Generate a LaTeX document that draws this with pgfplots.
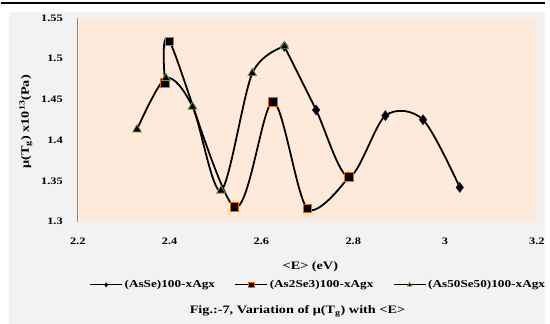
\documentclass[border=0pt]{standalone}
\usepackage{pgfplots}
\pgfplotsset{compat=1.18}
\usepackage{fontspec}
\setmainfont{Liberation Serif}[FakeStretch=1.25]
\definecolor{bgpanel}{RGB}{242,242,242}
\definecolor{plotbg}{RGB}{253,234,218}
\definecolor{sqorange}{RGB}{228,108,10}
\definecolor{trigreen}{RGB}{118,146,60}
\definecolor{diamedge}{RGB}{40,20,60}
\begin{document}
\begin{tikzpicture}
\fill[white] (0pt,0pt) rectangle (550pt,327pt);
\fill[bgpanel] (8pt,0pt) rectangle (550pt,315pt);
\draw[line width=1.2pt] (0pt,324pt) -- (550pt,324pt);
\begin{axis}[
  at={(78pt,103pt)}, anchor=south west,
  scale only axis, width=464pt, height=206pt,
  xmin=2.2, xmax=3.2, ymin=1.3, ymax=1.55,
  xtick={2.2,2.4,2.6,2.8,3,3.2},
  ytick={1.3,1.35,1.4,1.45,1.5,1.55},
  axis background/.style={fill=plotbg},
  axis lines*=left,
  x axis line style={draw=none},
  y axis line style={draw=black!45, line width=0.6pt},
  major tick length=0pt,
  /pgf/number format/assume math mode=true,
  ticklabel style={font=\bfseries\fontsize{10}{12}\selectfont},
  xticklabel style={anchor=center, yshift=-20pt},
  yticklabel style={anchor=east, inner sep=0pt, xshift=-15pt},
  xlabel={\bfseries <E> (eV)},
  xlabel style={at={(axis description cs:0.5065,-0.223)}, anchor=center, font=\fontsize{11.5}{13}\selectfont},
  ylabel={\bfseries μ(T\textsubscript{g}) x10\textsuperscript{13}(Pa)},
  ylabel style={at={(axis description cs:-0.113,0.49)}, anchor=center, font=\fontsize{11.5}{13}\selectfont},
  legend columns=3,
  legend style={at={(axis description cs:0.524,-0.31)}, anchor=center, draw=none, fill=none,
    font=\bfseries\fontsize{10.7}{12}\selectfont,
    /tikz/every even column/.append style={column sep=18pt}},
  legend image code/.code={
    \draw[#1, mark repeat=2, mark phase=2] plot coordinates {(0pt,0pt) (16pt,0pt) (32pt,0pt)};
  },
]
\addlegendimage{black, line width=1.3pt, mark=diamond*, mark size=2.2pt, mark options={fill=black, draw=diamedge, line width=0.5pt}}
\addlegendentry{(AsSe)100-xAgx}
\addlegendimage{black, line width=1.3pt, mark=square*, mark size=2.8pt, mark options={fill=black, draw=sqorange, line width=0.7pt}}
\addlegendentry{(As2Se3)100-xAgx}
\addlegendimage{black, line width=1.3pt, mark=triangle*, mark size=2.6pt, mark options={fill=black, draw=trigreen, line width=0.7pt}}
\addlegendentry{(As50Se50)100-xAgx}

\addplot[forget plot, black, line width=1.8pt, smooth, mark=diamond*, mark size=5pt,
  mark options={fill=black, draw=diamedge, line width=0.6pt}]
  coordinates {(2.650,1.515) (2.719,1.437) (2.790,1.355) (2.870,1.430) (2.952,1.425) (3.032,1.342)};
\addplot[forget plot, black, line width=1.8pt, smooth, mark=square*, mark size=4.3pt,
  mark options={fill=black, draw=sqorange, line width=0.8pt}]
  coordinates {(2.390,1.470) (2.400,1.521) (2.541,1.318) (2.625,1.447) (2.700,1.316) (2.790,1.355)};
\addplot[forget plot, black, line width=1.8pt, smooth, mark=triangle*, mark size=5pt,
  mark options={fill=black, draw=trigreen, line width=0.8pt}]
  coordinates {(2.329,1.413) (2.392,1.476) (2.450,1.441) (2.512,1.338) (2.580,1.482) (2.650,1.515)};
\end{axis}
\node[font=\bfseries\fontsize{11.5}{13}\selectfont, anchor=center] at (300pt,12pt) {Fig.:-7, Variation of μ(T\textsubscript{g}) with <E>};
\end{tikzpicture}
\end{document}
